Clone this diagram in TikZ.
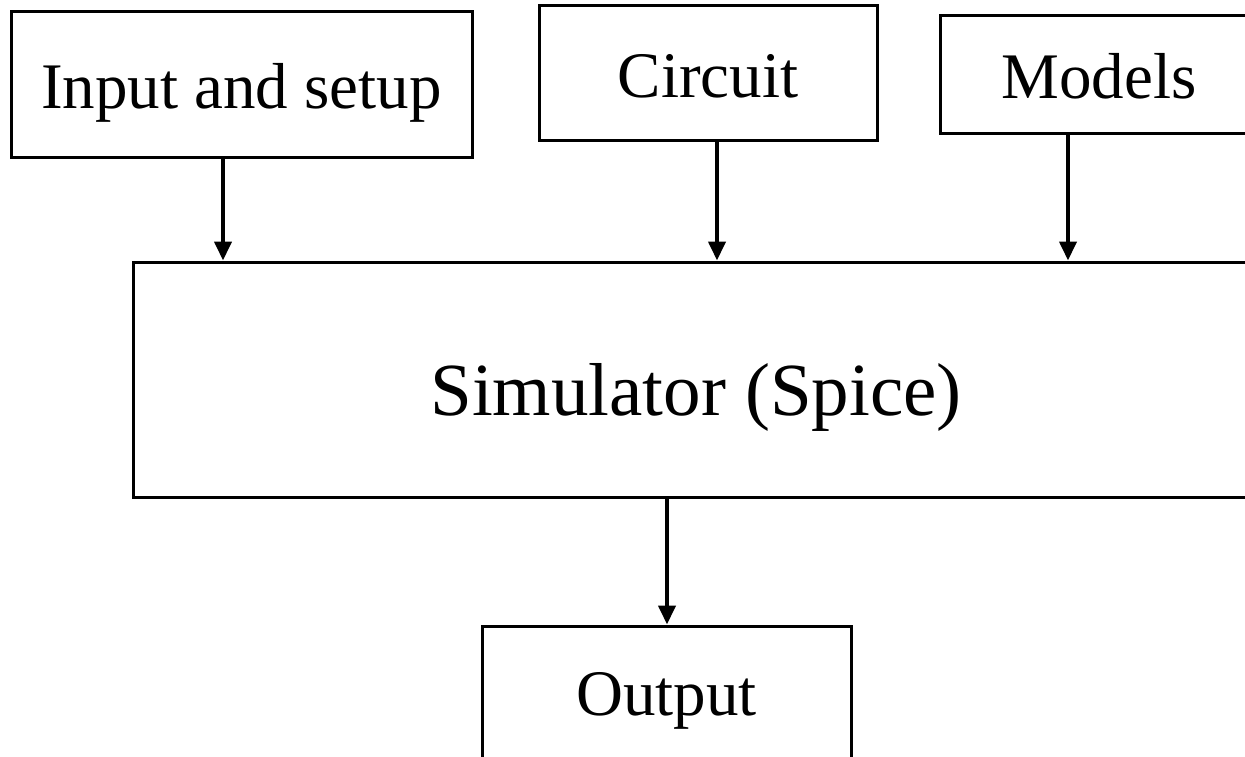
\documentclass[tikz,border=0pt]{standalone}
\usepackage{fontspec}
\setmainfont{Liberation Serif}
\usetikzlibrary{arrows.meta}

\begin{document}
\begin{tikzpicture}[x=1pt, y=-1pt,
    block/.style={draw, line width=3pt, rectangle, inner sep=0pt,
      text height=48pt, text depth=0pt, font=\fontsize{65}{70}\selectfont},
    flow/.style={-{Triangle[length=19pt,width=17pt]}, line width=4pt}]
    \tikzset{>=latex}
    \useasboundingbox (0,0) rectangle (1245,756);
    \clip (0,0) rectangle (1245,756);
    % input boxes
    \node [block, minimum width=461pt, minimum height=146pt] (setup) at (241.5,84) {Input and setup};
    \node [block, minimum width=338pt, minimum height=135pt, text height=49pt] (circ) at (708,72.5) {Circuit};
    \node [block, minimum width=318pt, minimum height=118pt] (mod) at (1099,74) {Models};
    % simulator and output
    \node [block, minimum width=1126pt, minimum height=235pt, text height=71pt,
      font=\fontsize{75}{80}\selectfont] (sim) at (696,379.5) {Simulator (Spice)};
    \node [block, minimum width=369pt, minimum height=150pt, text height=29pt] (out) at (666.5,701) {Output};
    \draw [flow] (setup.south -| 223,0) -- (sim.north -| 223,0);
    \draw [flow] (circ.south -| 717,0) -- (sim.north -| 717,0);
    \draw [flow] (mod.south -| 1068,0) -- (sim.north -| 1068,0);
    \draw [flow] (sim.south -| 667,0) -- (out.north -| 667,0);
\end{tikzpicture}
\end{document}
